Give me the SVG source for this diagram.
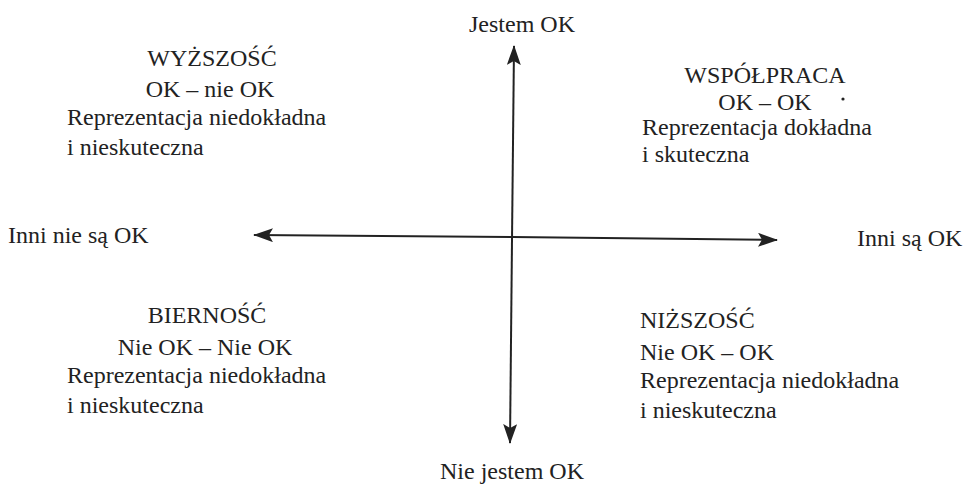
<svg xmlns="http://www.w3.org/2000/svg" width="965" height="487" viewBox="0 0 965 487">
<style>
text{font-family:'Liberation Serif','Times New Roman',Times,'DejaVu Serif',serif;font-size:24px;fill:#222}
.ax{stroke:#222;stroke-width:2;fill:none}
.c{text-anchor:middle}
</style>
<defs>
<marker id="ah2" viewBox="0 0 20 14" refX="19" refY="7" markerWidth="20" markerHeight="14" markerUnits="userSpaceOnUse" orient="auto">
<path d="M0,0 L20,7 L0,14 L4,7 Z" fill="#222"/>
</marker>
</defs>
<rect width="965" height="487" fill="#fff"/>
<g id="connectors">
<line class="ax" x1="512" y1="240" x2="514" y2="46" marker-end="url(#ah2)"/>
<line class="ax" x1="512" y1="240" x2="510" y2="443" marker-end="url(#ah2)"/>
<line class="ax" x1="512" y1="237" x2="254" y2="235" marker-end="url(#ah2)"/>
<line class="ax" x1="512" y1="237" x2="777" y2="240" marker-end="url(#ah2)"/>
</g>
<g id="axis-top"><text class="c" x="522" y="32">Jestem OK</text></g>
<g id="axis-bottom"><text class="c" x="512" y="479">Nie jestem OK</text></g>
<g id="axis-left"><text x="8" y="243">Inni nie są OK</text></g>
<g id="axis-right"><text x="857" y="246">Inni są OK</text></g>
<g id="q-top-left">
<text class="c" x="212" y="66">WYŻSZOŚĆ</text>
<text class="c" x="210" y="97">OK – nie OK</text>
<text x="67" y="125">Reprezentacja niedokładna</text>
<text x="67" y="155">i nieskuteczna</text>
</g>
<g id="q-top-right">
<text class="c" x="765" y="83">WSPÓŁPRACA</text>
<text class="c" x="765" y="110">OK – OK</text>
<circle cx="843" cy="99" r="1.6" fill="#222"/>
<text x="642" y="135">Reprezentacja dokładna</text>
<text x="642" y="162">i skuteczna</text>
</g>
<g id="q-bottom-left">
<text class="c" x="207" y="323">BIERNOŚĆ</text>
<text class="c" x="205" y="355">Nie OK – Nie OK</text>
<text x="67" y="383">Reprezentacja niedokładna</text>
<text x="67" y="413">i nieskuteczna</text>
</g>
<g id="q-bottom-right">
<text x="640" y="328">NIŻSZOŚĆ</text>
<text x="640" y="360">Nie OK – OK</text>
<text x="640" y="388">Reprezentacja niedokładna</text>
<text x="640" y="418">i nieskuteczna</text>
</g>
</svg>
